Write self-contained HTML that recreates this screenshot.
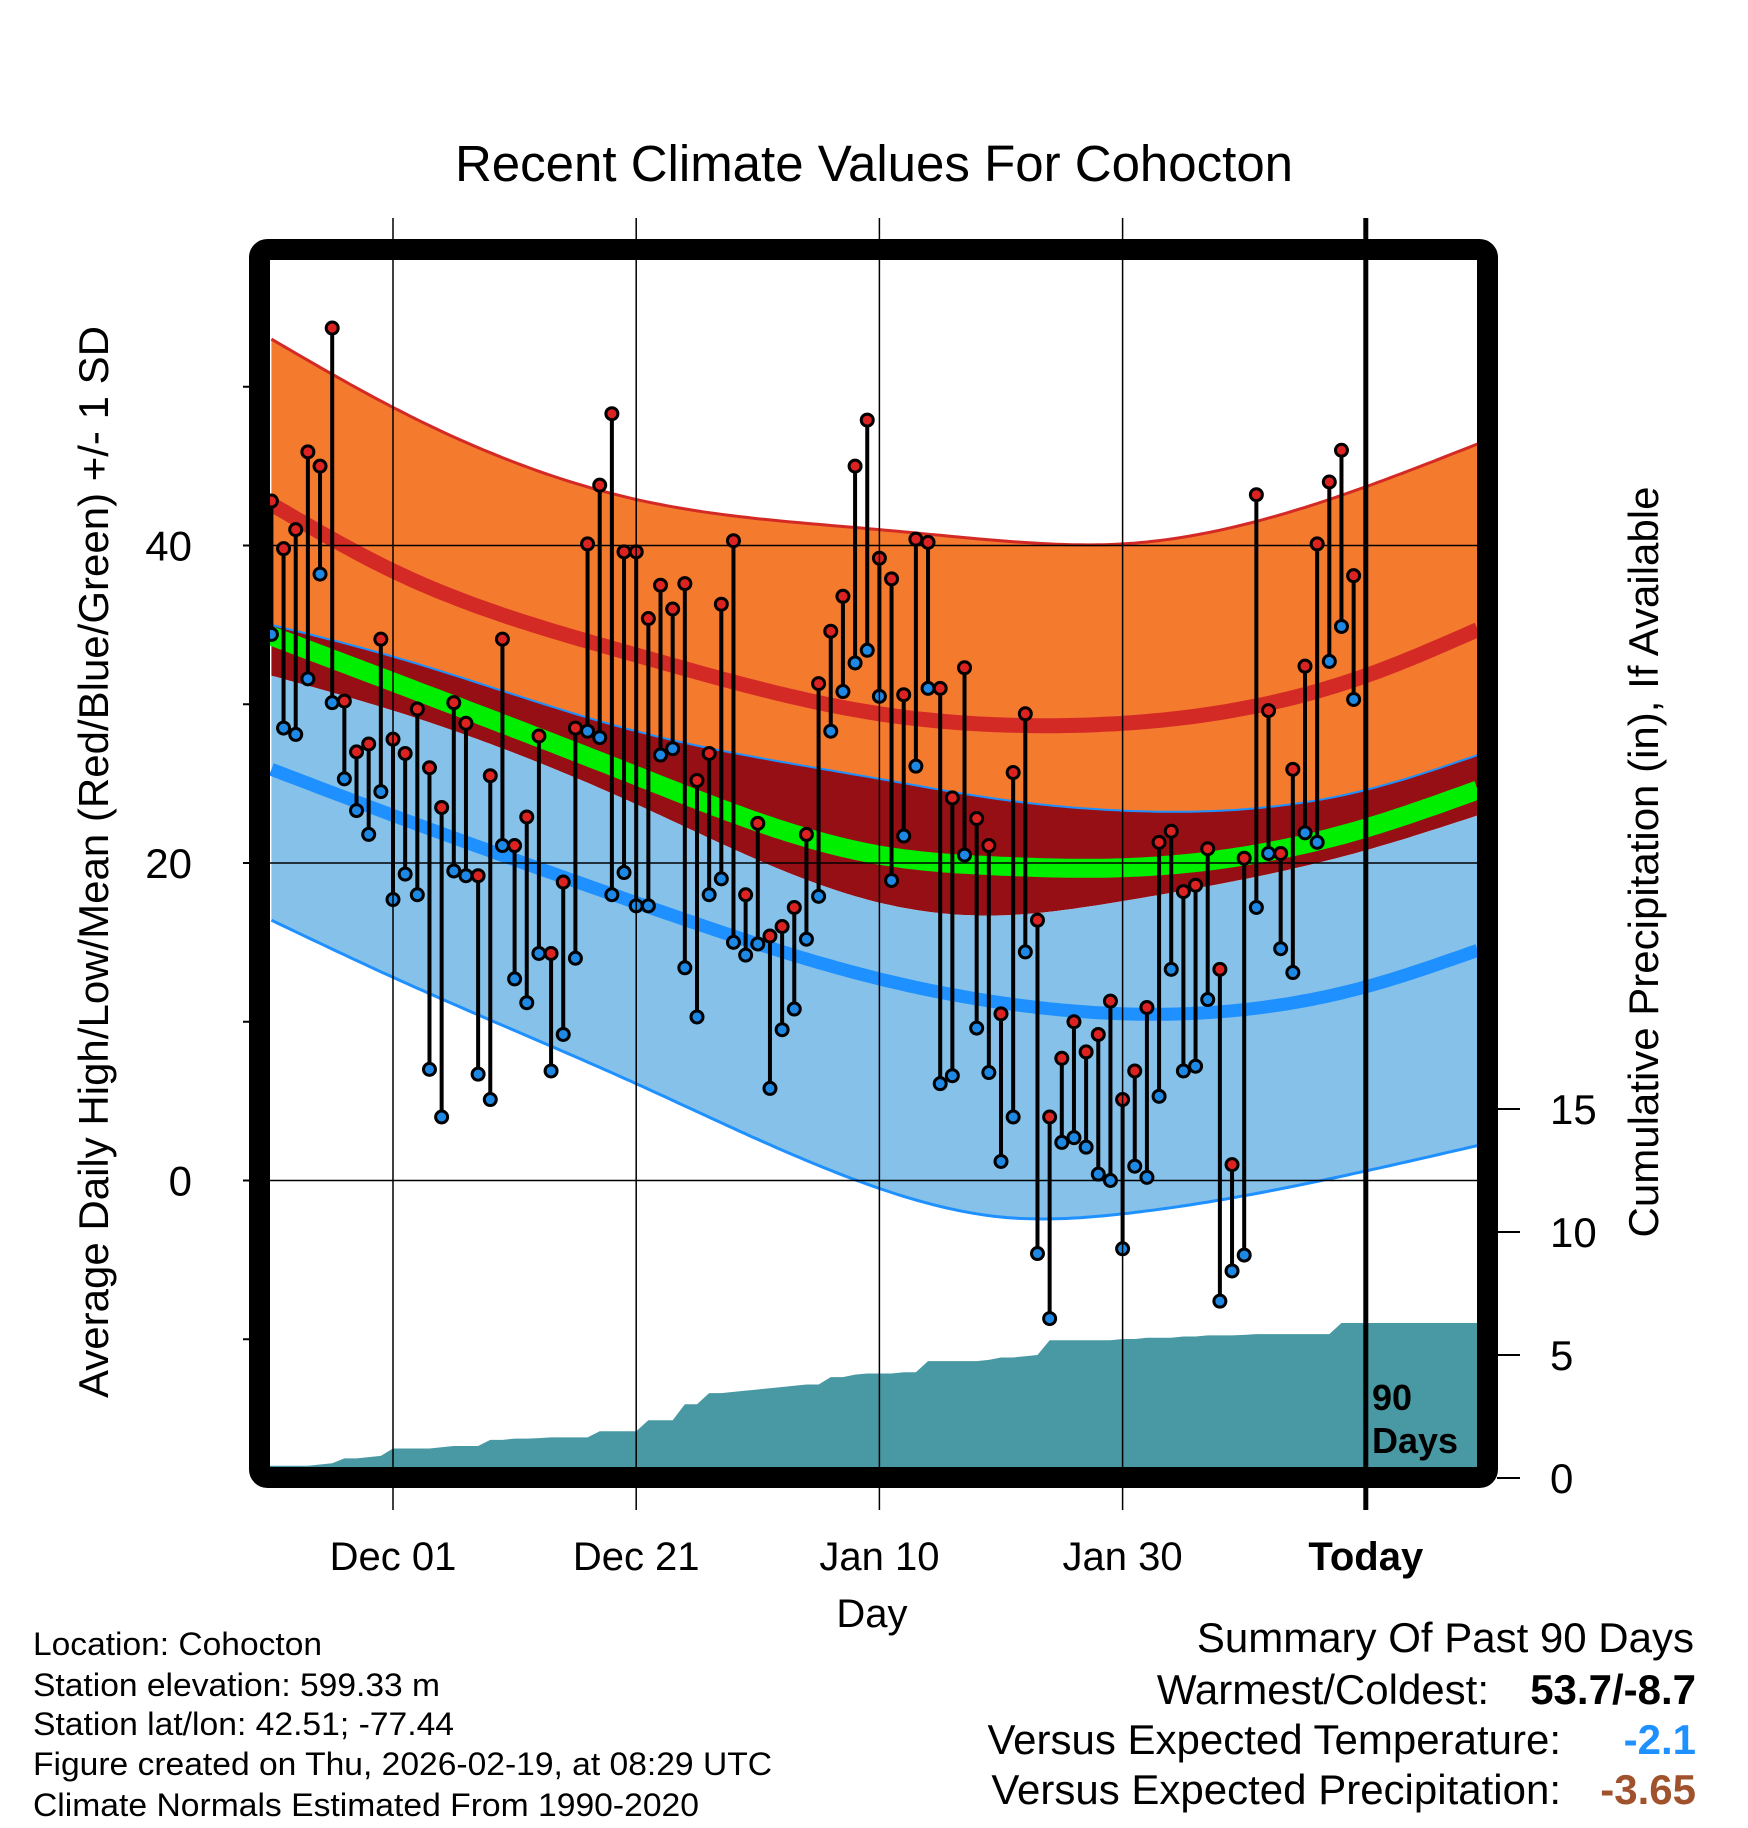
<!DOCTYPE html>
<html><head><meta charset="utf-8"><style>
html,body{margin:0;padding:0;background:#fff}
svg{display:block;font-family:"Liberation Sans",Arial,sans-serif}
</style></head><body>
<svg id="chart" width="1748" height="1828" viewBox="0 0 1748 1828" xmlns="http://www.w3.org/2000/svg">
<defs><clipPath id="plotclip"><rect x="270" y="260" width="1207" height="1207"/></clipPath></defs>
<text x="874" y="181" font-size="51" text-anchor="middle">Recent Climate Values For Cohocton</text>
<g id="plot" clip-path="url(#plotclip)"></g>
<g id="axes"></g>
<rect x="259.5" y="249.5" width="1228" height="1228" rx="8" fill="none" stroke="#000" stroke-width="21"/>
<text transform="translate(108,862) rotate(-90)" font-size="42" text-anchor="middle">Average Daily High/Low/Mean (Red/Blue/Green) +/- 1 SD</text>
<text transform="translate(1658,862) rotate(-90)" font-size="42" text-anchor="middle">Cumulative Precipitation (in), If Available</text>
<text x="872" y="1627" font-size="40" text-anchor="middle">Day</text>
<text x="1372" y="1410" font-size="36" font-weight="bold">90</text>
<text x="1372" y="1453" font-size="36" font-weight="bold">Days</text>
<g font-size="32">
<text x="33" y="1655" textLength="289" lengthAdjust="spacingAndGlyphs">Location: Cohocton</text>
<text x="33" y="1696" textLength="407" lengthAdjust="spacingAndGlyphs">Station elevation: 599.33 m</text>
<text x="33" y="1735" textLength="421" lengthAdjust="spacingAndGlyphs">Station lat/lon: 42.51; -77.44</text>
<text x="33" y="1775" textLength="739" lengthAdjust="spacingAndGlyphs">Figure created on Thu, 2026-02-19, at 08:29 UTC</text>
<text x="33" y="1816" textLength="666" lengthAdjust="spacingAndGlyphs">Climate Normals Estimated From 1990-2020</text>
</g>
<g font-size="42">
<text x="1694" y="1652" text-anchor="end">Summary Of Past 90 Days</text>
<text x="1489" y="1704" text-anchor="end">Warmest/Coldest:</text>
<text x="1696" y="1704" text-anchor="end" font-weight="bold">53.7/-8.7</text>
<text x="1561" y="1754" text-anchor="end">Versus Expected Temperature:</text>
<text x="1696" y="1754" text-anchor="end" font-weight="bold" fill="#1e90ff">-2.1</text>
<text x="1561" y="1804" text-anchor="end">Versus Expected Precipitation:</text>
<text x="1696" y="1804" text-anchor="end" font-weight="bold" fill="#a0522d">-3.65</text>
</g>
</svg>
<script>
const highs=[42.8,39.8,41,45.9,45,53.7,30.2,27,27.5,34.1,27.8,26.9,29.7,26,23.5,30.1,28.8,19.2,25.5,34.1,21.1,22.9,28,14.3,18.8,28.5,40.1,43.8,48.3,39.6,39.6,35.4,37.5,36,37.6,25.2,26.9,36.3,40.3,18,22.5,15.4,16,17.2,21.8,31.3,34.6,36.8,45,47.9,39.2,37.9,30.6,40.4,40.2,31,24.1,32.3,22.8,21.1,10.5,25.7,29.4,16.4,4,7.7,10,8.1,9.2,11.3,5.1,6.9,10.9,21.3,22,18.2,18.6,20.9,13.3,1,20.3,43.2,29.6,20.6,25.9,32.4,40.1,44,46,38.1];
const lows=[34.4,28.5,28.1,31.6,38.2,30.1,25.3,23.3,21.8,24.5,17.7,19.3,18,7,4,19.5,19.2,6.7,5.1,21.1,12.7,11.2,14.3,6.9,9.2,14,28.3,27.9,18,19.4,17.3,17.3,26.8,27.2,13.4,10.3,18,19,15,14.2,14.9,5.8,9.5,10.8,15.2,17.9,28.3,30.8,32.6,33.4,30.5,18.9,21.7,26.1,31,6.1,6.6,20.5,9.6,6.8,1.2,4,14.4,-4.6,-8.7,2.4,2.7,2.1,0.4,0,-4.3,0.9,0.2,5.3,13.3,6.9,7.2,11.4,-7.6,-5.7,-4.7,17.2,20.6,14.6,13.1,21.9,21.3,32.7,34.9,30.3];
const precip=[0.5,0.5,0.5,0.5,0.55,0.6,0.8,0.8,0.85,0.9,1.2,1.2,1.2,1.2,1.25,1.3,1.3,1.3,1.55,1.55,1.6,1.6,1.62,1.65,1.65,1.65,1.65,1.9,1.9,1.9,1.9,2.35,2.35,2.35,3.0,3.0,3.45,3.45,3.5,3.55,3.6,3.65,3.7,3.75,3.8,3.8,4.1,4.1,4.2,4.25,4.25,4.25,4.3,4.3,4.75,4.75,4.75,4.75,4.75,4.8,4.9,4.9,4.95,5.0,5.6,5.6,5.6,5.6,5.6,5.6,5.65,5.65,5.7,5.7,5.7,5.75,5.75,5.8,5.8,5.8,5.82,5.85,5.85,5.85,5.85,5.85,5.85,5.85,6.3,6.3];
const normDays=[0,10,30,50,60,70,90,99.2];
const normTop=[53,48.7,42.9,41,40.3,40.1,43.7,46.4];
const normHigh=[42.6,38.4,33.1,29.4,28.7,28.8,31.8,34.7];
const normLowPlusSD=[35,33,28.3,25.3,24,23.3,24.6,26.8];
const normMean=[34.3,31.4,25.5,20.5,19.8,19.7,22.2,24.6];
const normHighMinusSD=[31.8,29.6,23.7,17.5,16.7,17.6,20.8,23];
const normLow=[25.9,23,17.5,12.7,11.2,10.5,12.2,14.5];
const normBottom=[16.4,12.8,6.1,-0.5,-2.3,-2.1,0.6,2.2];
const xTickDays=[10,30,50,70,90];
const xTickLabels=["Dec 01","Dec 21","Jan 10","Jan 30","Today"];
const yTicks=[0,20,40];
const yMinorTicks=[-10,10,30,50];
const pTicks=[0,5,10,15];

const NS="http://www.w3.org/2000/svg";
const X=d=>271.4+d*12.16;
const Y=v=>1180.5-v*15.875;
const P=v=>1478-v*24.6;
function mk(tag,attrs,parent){const e=document.createElementNS(NS,tag);for(const k in attrs)e.setAttribute(k,attrs[k]);parent.appendChild(e);return e;}
function spline(arr){
  const x=normDays,n=x.length,h=[],al=[],l=[1],mu=[0],z=[0],c=new Array(n).fill(0),b=[],d=[];
  for(let i=0;i<n-1;i++)h.push(x[i+1]-x[i]);
  for(let i=1;i<n-1;i++)al[i]=3/h[i]*(arr[i+1]-arr[i])-3/h[i-1]*(arr[i]-arr[i-1]);
  for(let i=1;i<n-1;i++){l[i]=2*(x[i+1]-x[i-1])-h[i-1]*mu[i-1];mu[i]=h[i]/l[i];z[i]=(al[i]-h[i-1]*z[i-1])/l[i];}
  for(let j=n-2;j>=0;j--){c[j]=(j>0?z[j]:0)-mu[j]*c[j+1];b[j]=(arr[j+1]-arr[j])/h[j]-h[j]*(c[j+1]+2*c[j])/3;d[j]=(c[j+1]-c[j])/(3*h[j]);}
  return t=>{let i=0;while(i<n-2&&t>x[i+1])i++;const dx=t-x[i];return arr[i]+b[i]*dx+c[i]*dx*dx+d[i]*dx*dx*dx;};
}
const samples=[];for(let d=0;d<=99.2;d+=0.5)samples.push(d);samples.push(99.2);
function linePts(arr){const f=spline(arr);return samples.map(d=>X(d).toFixed(1)+","+Y(f(d)).toFixed(1));}
function band(a,b){return "M"+linePts(a).join("L")+"L"+linePts(b).reverse().join("L")+"Z";}
const plot=document.getElementById('plot');
const axes=document.getElementById('axes');
let e;
e=mk('path',{d:band(normTop,normLowPlusSD),fill:'#f47a2e'},plot);


e=mk('path',{d:band(normLowPlusSD,normHighMinusSD),fill:'#960f14'},plot);


e=mk('path',{d:band(normHighMinusSD,normBottom),fill:'#85c1e8'},plot);


e=mk('path',{d:"M"+linePts(normTop).join("L"),fill:'none',stroke:'#d42a25','stroke-width':3},plot);


e=mk('path',{d:"M"+linePts(normLowPlusSD).join("L"),fill:'none',stroke:'#1e90ff','stroke-width':2},plot);


e=mk('path',{d:"M"+linePts(normBottom).join("L"),fill:'none',stroke:'#1e90ff','stroke-width':3},plot);


e=mk('path',{d:"M"+linePts(normHigh).join("L"),fill:'none',stroke:'#d42a25','stroke-width':15},plot);


e=mk('path',{d:"M"+linePts(normLow).join("L"),fill:'none',stroke:'#1e90ff','stroke-width':13},plot);


e=mk('path',{d:"M"+linePts(normMean).join("L"),fill:'none',stroke:'#00ee00','stroke-width':19},plot);


yTicks.forEach(v=>{
  e=mk('line',{x1:270,x2:1477,y1:Y(v),y2:Y(v),stroke:'#000','stroke-width':1.5},plot);
  
  
});
let pd="M"+X(-1)+","+P(0)+"L"+X(-1)+","+P(precip[0]);
precip.forEach((v,i)=>{pd+="L"+X(i)+","+P(v);});
pd+="L1480,"+P(precip[precip.length-1])+"L1480,"+P(0)+"Z";
e=mk('path',{d:pd,fill:'#4899a3'},plot);


xTickDays.forEach((d,i)=>{
  const today=xTickLabels[i]==="Today";
  e=mk('line',{x1:X(d),x2:X(d),y1:218,y2:1510,stroke:'#000','stroke-width':today?5:1.5},axes);
  
  
  e=mk('text',{x:X(d),y:1570,'font-size':40,'text-anchor':'middle','font-weight':today?'bold':'normal'},axes);
  e.textContent=xTickLabels[i];
  
  
});
highs.forEach((h,i)=>{
  const x=X(i),l=lows[i];
  e=mk('line',{x1:x,x2:x,y1:Y(h),y2:Y(l),stroke:'#000','stroke-width':4},plot);
  
  
});
highs.forEach((h,i)=>{
  const x=X(i);
  e=mk('circle',{cx:x,cy:Y(h),r:6,fill:'#dd2222',stroke:'#000','stroke-width':3},plot);
  
  
  e=mk('circle',{cx:x,cy:Y(lows[i]),r:6,fill:'#1e88e5',stroke:'#000','stroke-width':3},plot);
  
  
});
yTicks.forEach(v=>{
  e=mk('line',{x1:243,x2:250,y1:Y(v),y2:Y(v),stroke:'#000','stroke-width':2},axes);
  
  
  e=mk('text',{x:192,y:Y(v)+15,'font-size':42,'text-anchor':'end'},axes);
  e.textContent=v;
  
  
});
yMinorTicks.forEach(v=>{
  e=mk('line',{x1:243,x2:250,y1:Y(v),y2:Y(v),stroke:'#000','stroke-width':2},axes);
  
  
});
pTicks.forEach(v=>{
  e=mk('line',{x1:1497,x2:1520,y1:P(v),y2:P(v),stroke:'#000','stroke-width':2},axes);
  
  
  e=mk('text',{x:1550,y:P(v)+15,'font-size':42},axes);
  e.textContent=v;
  
  
});
</script>
</body></html>
